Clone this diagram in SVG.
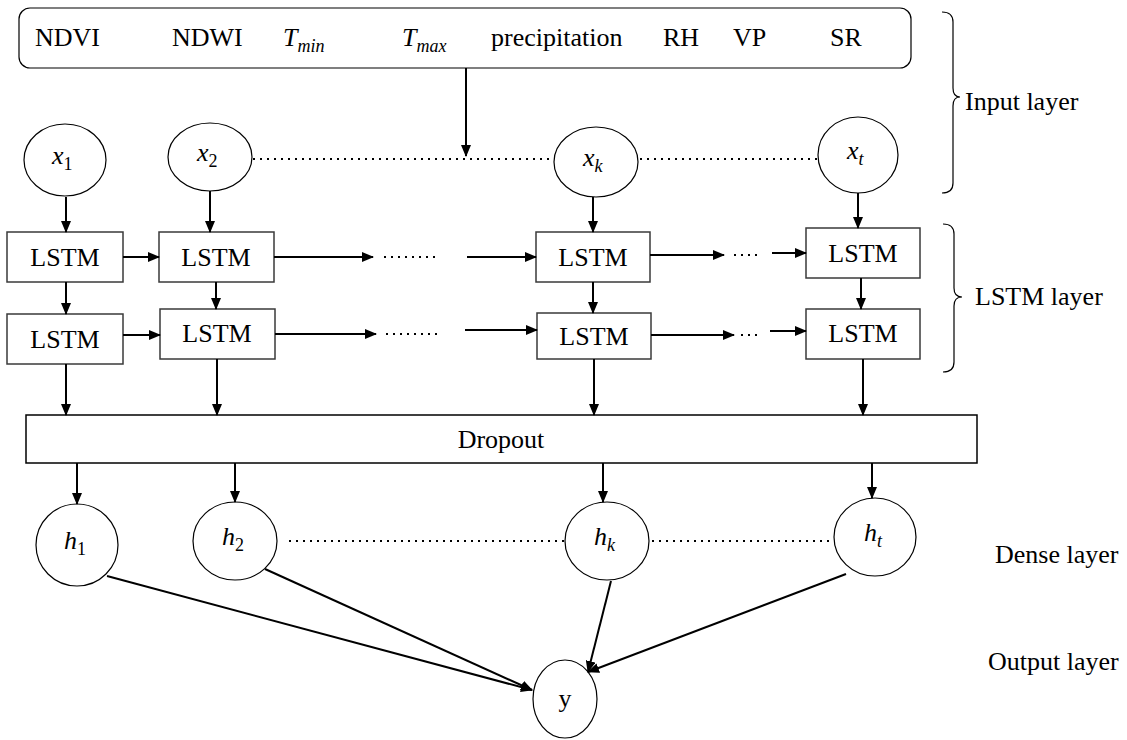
<svg xmlns="http://www.w3.org/2000/svg" width="1127" height="740" viewBox="0 0 1127 740" font-family="Liberation Serif">
<defs>
<marker id="ah" markerWidth="12" markerHeight="10" refX="11" refY="5" orient="auto" markerUnits="userSpaceOnUse">
<path d="M0,0 L12,5 L0,10 Z" fill="#000"/>
</marker>
<style>
text{font-size:26px;fill:#000}
.f{font-family:'Liberation Serif',serif}
.m{font-style:italic;font-size:26px}
.s{font-size:18px;font-style:normal}
.si{font-size:18px;font-style:italic}
.node{fill:#fff;stroke:#000;stroke-width:1.2}
.box{fill:#fff;stroke:#3a3a3a;stroke-width:1.5}
.ar{stroke:#000;stroke-width:2;fill:none;marker-end:url(#ah)}
.dot{stroke:#000;stroke-width:2;stroke-dasharray:2 5;fill:none}
.br{stroke:#000;stroke-width:1.2;fill:none}
</style>
</defs>
<rect width="1127" height="740" fill="#fff"/>

<g id="inputs" font-family="Liberation Serif">
<rect x="19" y="8" width="892" height="60" rx="11" class="node"/>
<text x="35" y="46"><tspan font-family="Liberation Serif">NDVI</tspan></text>
<text x="172" y="46"><tspan font-family="Liberation Serif">NDWI</tspan></text>
<text x="283" y="46"><tspan font-family="Liberation Serif" font-style="italic">T</tspan><tspan font-family="Liberation Serif" class="si" dy="6">min</tspan></text>
<text x="402" y="46"><tspan font-family="Liberation Serif" font-style="italic">T</tspan><tspan font-family="Liberation Serif" class="si" dy="6">max</tspan></text>
<text x="491" y="46"><tspan font-family="Liberation Serif">precipitation</tspan></text>
<text x="663" y="46"><tspan font-family="Liberation Serif">RH</tspan></text>
<text x="733" y="46"><tspan font-family="Liberation Serif">VP</tspan></text>
<text x="830" y="46"><tspan font-family="Liberation Serif">SR</tspan></text>
</g>

<g id="x1" font-family="Liberation Serif"><ellipse cx="65" cy="160" rx="41" ry="36" class="node"/><text x="52" y="164"><tspan font-family="Liberation Serif" font-style="italic">x</tspan><tspan font-family="Liberation Serif" class="s" dy="6">1</tspan></text></g>
<g id="x2" font-family="Liberation Serif"><ellipse cx="210" cy="157" rx="42" ry="34" class="node"/><text x="197" y="161"><tspan font-family="Liberation Serif" font-style="italic">x</tspan><tspan font-family="Liberation Serif" class="s" dy="6">2</tspan></text></g>
<g id="xk" font-family="Liberation Serif"><ellipse cx="596" cy="162" rx="42" ry="35" class="node"/><text x="583" y="166"><tspan font-family="Liberation Serif" font-style="italic">x</tspan><tspan font-family="Liberation Serif" class="si" dy="6">k</tspan></text></g>
<g id="xt" font-family="Liberation Serif"><ellipse cx="858" cy="155" rx="40" ry="38" class="node"/><text x="847" y="159"><tspan font-family="Liberation Serif" font-style="italic">x</tspan><tspan font-family="Liberation Serif" class="si" dy="6">t</tspan></text></g>

<g id="lstm11" font-family="Liberation Serif"><rect x="7" y="232" width="116" height="50" class="box"/><text x="65" y="266" text-anchor="middle"><tspan font-family="Liberation Serif">LSTM</tspan></text></g>
<g id="lstm12" font-family="Liberation Serif"><rect x="159" y="232" width="115" height="50" class="box"/><text x="216" y="266" text-anchor="middle"><tspan font-family="Liberation Serif">LSTM</tspan></text></g>
<g id="lstm1k" font-family="Liberation Serif"><rect x="536" y="232" width="114" height="50" class="box"/><text x="593" y="266" text-anchor="middle"><tspan font-family="Liberation Serif">LSTM</tspan></text></g>
<g id="lstm1t" font-family="Liberation Serif"><rect x="806" y="228" width="114" height="50" class="box"/><text x="863" y="262" text-anchor="middle"><tspan font-family="Liberation Serif">LSTM</tspan></text></g>
<g id="lstm21" font-family="Liberation Serif"><rect x="7" y="314" width="116" height="50" class="box"/><text x="65" y="348" text-anchor="middle"><tspan font-family="Liberation Serif">LSTM</tspan></text></g>
<g id="lstm22" font-family="Liberation Serif"><rect x="160" y="309" width="115" height="50" class="box"/><text x="217" y="342" text-anchor="middle"><tspan font-family="Liberation Serif">LSTM</tspan></text></g>
<g id="lstm2k" font-family="Liberation Serif"><rect x="537" y="313" width="114" height="46" class="box"/><text x="594" y="345" text-anchor="middle"><tspan font-family="Liberation Serif">LSTM</tspan></text></g>
<g id="lstm2t" font-family="Liberation Serif"><rect x="806" y="309" width="114" height="50" class="box"/><text x="863" y="342" text-anchor="middle"><tspan font-family="Liberation Serif">LSTM</tspan></text></g>

<g id="dropout" font-family="Liberation Serif"><rect x="26" y="415" width="951" height="48" class="box" style="stroke:#000"/><text x="501" y="448" text-anchor="middle"><tspan font-family="Liberation Serif">Dropout</tspan></text></g>

<g id="h1" font-family="Liberation Serif"><ellipse cx="77" cy="545" rx="41" ry="41" class="node"/><text x="64" y="549"><tspan font-family="Liberation Serif" font-style="italic">h</tspan><tspan font-family="Liberation Serif" class="s" dy="6">1</tspan></text></g>
<g id="h2" font-family="Liberation Serif"><ellipse cx="235" cy="541" rx="42" ry="39" class="node"/><text x="222" y="545"><tspan font-family="Liberation Serif" font-style="italic">h</tspan><tspan font-family="Liberation Serif" class="s" dy="6">2</tspan></text></g>
<g id="hk" font-family="Liberation Serif"><ellipse cx="607" cy="541" rx="42" ry="39" class="node"/><text x="594" y="545"><tspan font-family="Liberation Serif" font-style="italic">h</tspan><tspan font-family="Liberation Serif" class="si" dy="6">k</tspan></text></g>
<g id="ht" font-family="Liberation Serif"><ellipse cx="875" cy="537" rx="41" ry="39" class="node"/><text x="864" y="541"><tspan font-family="Liberation Serif" font-style="italic">h</tspan><tspan font-family="Liberation Serif" class="si" dy="6">t</tspan></text></g>
<g id="y" font-family="Liberation Serif"><ellipse cx="565" cy="699" rx="32" ry="39" class="node"/><text x="565" y="707" text-anchor="middle"><tspan font-family="Liberation Serif">y</tspan></text></g>

<g id="labels" font-family="Liberation Serif">
<path class="br" d="M942,12 Q953,12 953,22 L953,88 Q953,97 960,97 Q953,97 953,106 L953,183 Q953,193 942,193"/>
<text x="965" y="110" font-family="Liberation Serif">Input layer</text>
<path class="br" d="M943,224 Q954,224 954,234 L954,288 Q954,297 962,297 Q954,297 954,306 L954,362 Q954,372 943,372"/>
<text x="975" y="305" font-family="Liberation Serif">LSTM layer</text>
<text x="995" y="563" font-family="Liberation Serif">Dense layer</text>
<text x="988" y="670" font-family="Liberation Serif">Output layer</text>
</g>

<g id="connectors">
<line x1="466" y1="68" x2="466" y2="156" class="ar"/>
<line x1="253" y1="159" x2="554" y2="159" class="dot"/>
<line x1="640" y1="159" x2="818" y2="159" class="dot"/>
<line x1="66" y1="197" x2="66" y2="232" class="ar"/>
<line x1="210" y1="191" x2="210" y2="232" class="ar"/>
<line x1="593" y1="197" x2="593" y2="232" class="ar"/>
<line x1="858" y1="193" x2="858" y2="228" class="ar"/>

<line x1="123" y1="257" x2="159" y2="257" class="ar"/>
<line x1="274" y1="257" x2="373" y2="257" class="ar"/>
<line x1="384" y1="257" x2="440" y2="257" class="dot"/>
<line x1="467" y1="257" x2="536" y2="257" class="ar"/>
<line x1="650" y1="255" x2="724" y2="255" class="ar"/>
<line x1="734" y1="255" x2="758" y2="255" class="dot"/>
<line x1="772" y1="253" x2="806" y2="253" class="ar"/>

<line x1="123" y1="335" x2="160" y2="335" class="ar"/>
<line x1="275" y1="334" x2="376" y2="334" class="ar"/>
<line x1="386" y1="334" x2="442" y2="334" class="dot"/>
<line x1="465" y1="330" x2="537" y2="330" class="ar"/>
<line x1="651" y1="335" x2="734" y2="335" class="ar"/>
<line x1="741" y1="335" x2="762" y2="335" class="dot"/>
<line x1="770" y1="331" x2="806" y2="331" class="ar"/>

<line x1="66" y1="282" x2="66" y2="314" class="ar"/>
<line x1="216" y1="282" x2="216" y2="309" class="ar"/>
<line x1="593" y1="282" x2="593" y2="313" class="ar"/>
<line x1="861" y1="278" x2="861" y2="309" class="ar"/>

<line x1="66" y1="364" x2="66" y2="415" class="ar"/>
<line x1="217" y1="359" x2="217" y2="415" class="ar"/>
<line x1="594" y1="359" x2="594" y2="415" class="ar"/>
<line x1="863" y1="359" x2="863" y2="415" class="ar"/>

<line x1="77" y1="463" x2="77" y2="504" class="ar"/>
<line x1="235" y1="463" x2="235" y2="502" class="ar"/>
<line x1="603" y1="463" x2="603" y2="502" class="ar"/>
<line x1="872" y1="463" x2="872" y2="498" class="ar"/>

<line x1="289" y1="541" x2="565" y2="541" class="dot"/>
<line x1="652" y1="541" x2="834" y2="541" class="dot"/>

<line x1="107" y1="576" x2="532" y2="690" class="ar"/>
<line x1="265" y1="569" x2="532" y2="690" class="ar"/>
<line x1="611" y1="581" x2="588" y2="672" class="ar"/>
<line x1="846" y1="574" x2="588" y2="672" class="ar"/>
</g>
</svg>
